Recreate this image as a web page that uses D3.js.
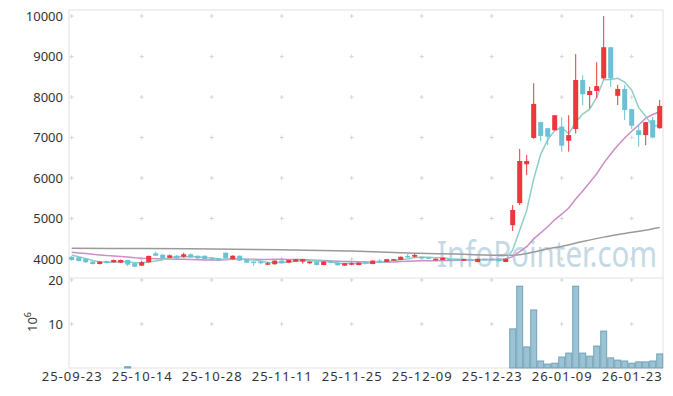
<!DOCTYPE html>
<html>
<head>
<meta charset="utf-8">
<script src="https://cdn.jsdelivr.net/npm/d3@7"></script>
<style>
  body { margin: 0; background: #fff; }
  svg { display: block; font-family: "Noto Sans", sans-serif; }
</style>
</head>
<body>
<svg id="chart" width="673" height="396"></svg>
<script>
// trading days shown on the chart
const dates = ("25-09-23 25-09-24 25-09-25 25-09-26 25-09-29 25-09-30 25-10-01 25-10-02 25-10-10 25-10-13 " +
  "25-10-14 25-10-15 25-10-16 25-10-17 25-10-20 25-10-21 25-10-22 25-10-23 25-10-24 25-10-27 " +
  "25-10-28 25-10-29 25-10-30 25-10-31 25-11-03 25-11-04 25-11-05 25-11-06 25-11-07 25-11-10 " +
  "25-11-11 25-11-12 25-11-13 25-11-14 25-11-17 25-11-18 25-11-19 25-11-20 25-11-21 25-11-24 " +
  "25-11-25 25-11-26 25-11-27 25-11-28 25-12-01 25-12-02 25-12-03 25-12-04 25-12-05 25-12-08 " +
  "25-12-09 25-12-10 25-12-11 25-12-12 25-12-15 25-12-16 25-12-17 25-12-18 25-12-19 25-12-22 " +
  "25-12-23 25-12-24 25-12-26 25-12-29 25-12-30 26-01-02 26-01-05 26-01-06 26-01-07 26-01-08 " +
  "26-01-09 26-01-12 26-01-13 26-01-14 26-01-15 26-01-16 26-01-19 26-01-20 26-01-21 26-01-22 " +
  "26-01-23 26-01-26 26-01-27 26-01-28 26-01-29").split(" ");

const opens = [4055,4040,4000,3935,3875,3950,3920,3910,3975,3895,
  3835,3920,4140,4105,4030,4080,4055,4115,4080,4080,
  4015,4015,4155,3995,4080,3995,3935,3935,3870,3870,
  3960,3910,3935,3935,3895,3935,3850,3960,3910,3835,
  3860,3850,3935,3875,3960,3925,3960,3975,4075,4055,
  4055,4040,3975,3975,4000,3995,3960,3995,3925,4005,
  4005,4005,3925,4835,5380,6340,6990,7380,7230,7180,
  7270,6920,7210,8420,8050,8150,8460,9230,8030,8200,
  7700,7180,7060,7430,7230];

const highs = [4070,4060,4010,3945,3945,3960,3985,3985,3980,3900,
  3950,4085,4180,4120,4110,4095,4150,4140,4085,4085,
  4020,4020,4160,4090,4085,4000,3940,3940,3925,3965,
  3965,3980,4000,4000,3940,3940,3940,3965,3915,3900,
  3920,3915,3940,3965,3995,4000,4000,4060,4120,4135,
  4060,4045,4010,4035,4005,4000,4000,4000,4010,4010,
  4010,4010,4010,5330,6720,6570,8340,7390,7240,7560,
  7500,7550,9060,8540,8250,8860,10000,9240,8300,8300,
  7710,7310,7380,7510,7930];

const lows = [3965,3940,3905,3865,3865,3890,3910,3905,3825,3800,
  3825,3910,4070,4005,4020,4005,4030,4030,3995,3985,
  3965,3950,4005,3985,3950,3900,3835,3870,3855,3860,
  3885,3900,3930,3885,3870,3840,3845,3900,3835,3830,
  3845,3845,3885,3870,3900,3920,3955,3970,4020,4035,
  4010,4000,3970,3970,3950,3960,3950,3950,3920,3965,
  3965,3935,3920,4690,5330,6070,6970,6910,6810,7175,
  6650,6650,7100,7800,7720,7970,8440,8250,7800,7430,
  7210,6770,6810,6980,7220];

const closes = [3975,3950,3920,3875,3935,3900,3975,3975,3860,3810,
  3920,4075,4080,4015,4090,4015,4115,4040,4015,3995,
  3975,3960,4015,4080,3960,3910,3910,3895,3895,3960,
  3895,3975,3995,3995,3935,3850,3935,3910,3845,3895,
  3895,3910,3895,3960,3925,3995,3995,4055,4040,4100,
  4015,4005,4005,4030,3960,3970,3995,3960,4005,3975,
  3975,3945,4005,5210,6420,6420,7830,7040,7020,7550,
  6800,7060,8420,8070,8150,8270,9230,8460,8200,7680,
  7290,7060,7380,7000,7780];

// volume in millions of shares
const volumes = [0.08,0.06,0.05,0.07,0.05,0.06,0.05,0.04,0.3,0.08,
  0.07,0.12,0.15,0.08,0.06,0.05,0.07,0.06,0.05,0.05,
  0.04,0.05,0.1,0.07,0.06,0.05,0.06,0.05,0.04,0.05,
  0.05,0.06,0.05,0.04,0.05,0.06,0.05,0.04,0.05,0.04,
  0.04,0.04,0.04,0.05,0.04,0.05,0.04,0.06,0.07,0.08,
  0.05,0.04,0.04,0.05,0.04,0.04,0.04,0.04,0.06,0.04,
  0.04,0.05,0.06,8.9,18.6,4.8,13.2,1.6,0.9,1.1,
  2.5,3.4,18.6,3.4,2.7,5.0,8.4,2.3,1.8,1.6,
  1.1,1.4,1.4,1.6,3.2];

// closes before the first visible day (only feed the moving averages)
const priorCloses = [4250,4230,4260,4215,4200,4190,4220,4180,4175,4160,
  4150,4170,4140,4125,4135,4160,4140,4120,4100];

// long moving average as [day index, value]
const longMA = [[0,4265],[10,4258],[20,4245],[30,4225],[40,4195],[48,4145],[55,4120],
  [62,4090],[64,4105],[66,4170],[68,4250],[70,4310],[73,4430],[76,4540],[79,4630],
  [82,4710],[84,4775]];

const priceTicks = [4000,5000,6000,7000,8000,9000,10000];
const volumeTicks = [10,20];
const dateTicks = dates.filter((d, i) => i % 10 === 0);

const up = "#ec373c", down = "#6cc1d7";
const frame = "#e2e2e2";

const left = 69, right = 663;
const priceTop = 10, priceBottom = 278, volBottom = 368;

const svg = d3.select("#chart");

const x = d3.scaleBand()
  .domain(dates)
  .range([68.2, 663.2])
  .padding(0);
const cx = d => x(d) + x.bandwidth() / 2;

const yPrice = d3.scaleLinear().domain([3530, 10150]).range([priceBottom, priceTop]);
const yVol = d3.scaleLinear().domain([0, 20.45]).range([volBottom, priceBottom]);

const candles = dates.map((d, i) => ({
  date: d, open: opens[i], high: highs[i], low: lows[i], close: closes[i], volume: volumes[i]
}));

// moving average of closes, using the earlier closes for the first days
const movingAverage = (n) => {
  const all = priorCloses.concat(closes);
  const off = priorCloses.length;
  return dates.map((d, i) => ({ date: d, value: d3.mean(all.slice(off + i - n + 1, off + i + 1)) }));
};

// watermark
svg.append("text")
  .attr("x", 437)
  .attr("y", 267)
  .attr("font-size", 37)
  .attr("textLength", 220)
  .attr("lengthAdjust", "spacingAndGlyphs")
  .attr("fill", "#c4d9e5")
  .text("InfoPointer.com");

// frame of both panels
const frameG = svg.append("g").attr("stroke", frame).attr("fill", "none");
frameG.append("rect")
  .attr("x", left).attr("y", priceTop)
  .attr("width", right - left).attr("height", volBottom - priceTop);
frameG.append("line")
  .attr("x1", left).attr("x2", right)
  .attr("y1", priceBottom).attr("y2", priceBottom);

// small crosses where the grid lines would meet
const gridYs = priceTicks.map(yPrice).concat(volumeTicks.map(yVol));
const crosses = [];
dateTicks.forEach(d => gridYs.forEach(y => crosses.push([cx(d), y])));
svg.append("g")
  .selectAll("path")
  .data(crosses)
  .join("path")
    .attr("d", ([px, py]) => `M${px - 2},${py}h4M${px},${py - 2}v4`)
    .attr("stroke", "#d6d6d6")
    .attr("stroke-width", 1);

// volume bars
svg.append("g")
  .selectAll("rect")
  .data(candles.filter(d => volBottom - yVol(d.volume) >= 1))
  .join("rect")
    .attr("x", d => x(d.date) + 0.5)
    .attr("width", x.bandwidth() - 1)
    .attr("y", d => yVol(d.volume))
    .attr("height", d => volBottom - yVol(d.volume))
    .attr("fill", "#9cc3d3")
    .attr("stroke", "#5e96ae")
    .attr("stroke-width", 1)
    .attr("stroke-opacity", 0.8);

// moving average lines
const line = d3.line().x(d => cx(d.date)).y(d => yPrice(d.value));

svg.append("path")
  .datum(longMA.map(([i, v]) => ({ date: dates[i], value: v })))
  .attr("d", line.curve(d3.curveMonotoneX))
  .attr("fill", "none")
  .attr("stroke", "#9a9a9a")
  .attr("stroke-width", 1.5);

line.curve(d3.curveLinear);

svg.append("path")
  .datum(movingAverage(20))
  .attr("d", line)
  .attr("fill", "none")
  .attr("stroke", "#cc8dc8")
  .attr("stroke-width", 1.5);

svg.append("path")
  .datum(movingAverage(5))
  .attr("d", line)
  .attr("fill", "none")
  .attr("stroke", "#8ccfc5")
  .attr("stroke-width", 1.5);

// candles
const candleG = svg.append("g")
  .selectAll("g")
  .data(candles)
  .join("g")
    .attr("fill", d => d.close >= d.open ? up : down)
    .attr("stroke", d => d.close >= d.open ? up : down);

candleG.append("line")
  .attr("x1", d => cx(d.date)).attr("x2", d => cx(d.date))
  .attr("y1", d => yPrice(d.high)).attr("y2", d => yPrice(d.low))
  .attr("stroke-width", 1);

candleG.append("rect")
  .attr("x", d => cx(d.date) - 2.5)
  .attr("width", 5)
  .attr("y", d => yPrice(Math.max(d.open, d.close)))
  .attr("height", d => Math.max(1.5, Math.abs(yPrice(d.open) - yPrice(d.close))))
  .attr("stroke", "none");

// axes
const styleAxis = g => {
  g.select(".domain").remove();
  g.selectAll("text")
    .attr("font-size", 13)
    .attr("fill", "#333")
    .attr("font-family", "Noto Sans, sans-serif");
};

svg.append("g")
  .attr("transform", `translate(${left},0)`)
  .call(d3.axisLeft(yPrice).tickValues(priceTicks).tickFormat(d3.format("d")).tickSize(0).tickPadding(6))
  .call(styleAxis);

svg.append("g")
  .attr("transform", `translate(${left},0)`)
  .call(d3.axisLeft(yVol).tickValues(volumeTicks).tickFormat(d3.format("d")).tickSize(0).tickPadding(6))
  .call(styleAxis);

svg.append("g")
  .attr("transform", `translate(0,${volBottom})`)
  .call(d3.axisBottom(x).tickValues(dateTicks).tickSize(0).tickPadding(4))
  .call(styleAxis)
  .call(g => g.selectAll("text")
    .attr("textLength", 60)
    .attr("lengthAdjust", "spacing"));

// unit label of the volume panel
const unit = svg.append("text")
  .attr("transform", "translate(37,322) rotate(-90)")
  .attr("text-anchor", "middle")
  .attr("font-size", 13)
  .attr("fill", "#333");
unit.append("tspan").text("10");
unit.append("tspan").attr("font-size", 9).attr("dy", -6).text("6");
</script>
</body>
</html>
